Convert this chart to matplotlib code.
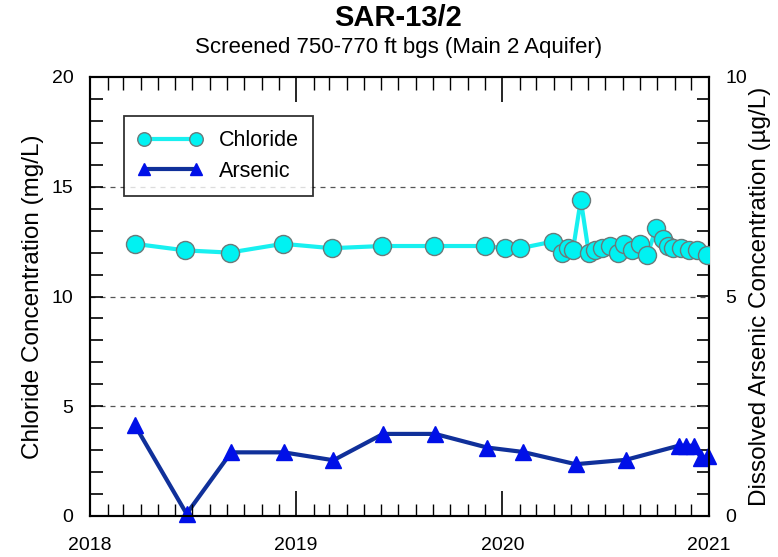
import matplotlib
matplotlib.use("Agg")
import matplotlib.pyplot as plt
import matplotlib.dates as mdates
from matplotlib.ticker import MultipleLocator
import pandas as pd

plt.rcParams['font.family'] = ['Liberation Sans', 'DejaVu Sans']

title = "SAR-13/2"
subtitle = "Screened 750-770 ft bgs (Main 2 Aquifer)"

chloride_dates = ["2018-03-21", "2018-06-19", "2018-09-05", "2018-12-09",
                  "2019-03-05", "2019-06-02", "2019-09-02", "2019-12-01",
                  "2020-01-06", "2020-02-02", "2020-03-30", "2020-04-15",
                  "2020-04-27", "2020-05-05", "2020-05-19", "2020-06-02",
                  "2020-06-14", "2020-06-25", "2020-07-10", "2020-07-23",
                  "2020-08-04", "2020-08-18", "2020-09-01", "2020-09-14",
                  "2020-09-29", "2020-10-11", "2020-10-20", "2020-10-30",
                  "2020-11-13", "2020-11-26", "2020-12-10", "2020-12-28"]
chloride_values = [12.4, 12.1, 12.0, 12.4,
                   12.2, 12.3, 12.3, 12.3,
                   12.2, 12.2, 12.5, 12.0,
                   12.2, 12.1, 14.4, 12.0,
                   12.1, 12.2, 12.3, 12.0,
                   12.4, 12.1, 12.4, 11.9,
                   13.1, 12.6, 12.3, 12.2,
                   12.2, 12.1, 12.1, 11.9]

arsenic_dates = ["2018-03-21", "2018-06-21", "2018-09-08", "2018-12-10",
                 "2019-03-08", "2019-06-04", "2019-09-04", "2019-12-05",
                 "2020-02-06", "2020-05-10", "2020-08-07", "2020-11-08",
                 "2020-11-21", "2020-12-05", "2020-12-18", "2020-12-30"]
arsenic_values = [2.08, 0.05, 1.45, 1.45,
                  1.27, 1.87, 1.87, 1.56,
                  1.46, 1.18, 1.28, 1.6,
                  1.6, 1.6, 1.32, 1.36]

left_label = "Chloride Concentration (mg/L)"
right_label = "Dissolved Arsenic Concentration (\u00b5g/L)"

cl_d = pd.to_datetime(chloride_dates)
as_d = pd.to_datetime(arsenic_dates)

fig = plt.figure(figsize=(7.78, 5.57), dpi=100)
ax = fig.add_axes([90/778, 1-516/557, (709-90)/778, (516-77)/557])
ax2 = ax.twinx()

ax.set_xlim(pd.Timestamp("2018-01-01"), pd.Timestamp("2021-01-01"))
ax.set_ylim(0, 20)
ax2.set_ylim(0, 10)

for y in [5, 10, 15]:
    ax.axhline(y, color="#555555", lw=0.9, ls=(0, (4, 4)), zorder=0)

lc, = ax.plot(cl_d, chloride_values, color="#18F0F0", lw=3,
              marker="o", ms=13, mfc="#00F2F2", mec="#6a7a7a", mew=1.0,
              label="Chloride", zorder=3)
la, = ax2.plot(as_d, arsenic_values, color="#10309A", lw=3,
               marker="^", ms=11, mfc="#0010E8", mec="#0010E8", mew=1.0,
               label="Arsenic", zorder=3, clip_on=False)

ax.xaxis.set_major_locator(mdates.YearLocator())
ax.xaxis.set_major_formatter(mdates.DateFormatter("%Y"))
ax.xaxis.set_minor_locator(mdates.MonthLocator())
ax.yaxis.set_major_locator(MultipleLocator(5))
ax.yaxis.set_minor_locator(MultipleLocator(1))
ax2.yaxis.set_major_locator(MultipleLocator(5))
ax2.yaxis.set_minor_locator(MultipleLocator(0.5))

ax.tick_params(axis="x", which="major", direction="in", length=18, width=1.2,
               labelsize=14, pad=15, top=True)
ax.tick_params(axis="x", which="minor", direction="in", length=9, width=1.0,
               top=True)
ax.tick_params(axis="y", which="both", direction="in", length=9, width=1.2,
               labelsize=14, pad=12)
ax2.tick_params(axis="y", which="both", direction="in", length=9, width=1.2,
                labelsize=14, pad=12)

for a in (ax, ax2):
    for s in a.spines.values():
        s.set_linewidth(1.5)

ax.set_ylabel(left_label, fontsize=17.5)
ax.yaxis.set_label_coords(-0.074, 0.5)
ax2.set_ylabel(right_label, fontsize=17.5, labelpad=1)

leg = ax.legend(handles=[lc, la], loc="upper left", bbox_to_anchor=(0.055, 0.911),
                fontsize=15.5, frameon=True, fancybox=False, edgecolor="black",
                handlelength=3.0, numpoints=2, markerscale=0.75,
                borderpad=0.65, labelspacing=0.45,
                handletextpad=0.75, borderaxespad=0)
leg.get_frame().set_linewidth(1.3)
ax.set_zorder(ax2.get_zorder() + 1)
ax.patch.set_visible(False)

fig.text(0.512, 0.967, title, ha="center", va="center", fontsize=21, fontweight="bold")
fig.text(0.512, 0.914, subtitle, ha="center", va="center", fontsize=16)

fig.savefig("out.png", dpi=100)
